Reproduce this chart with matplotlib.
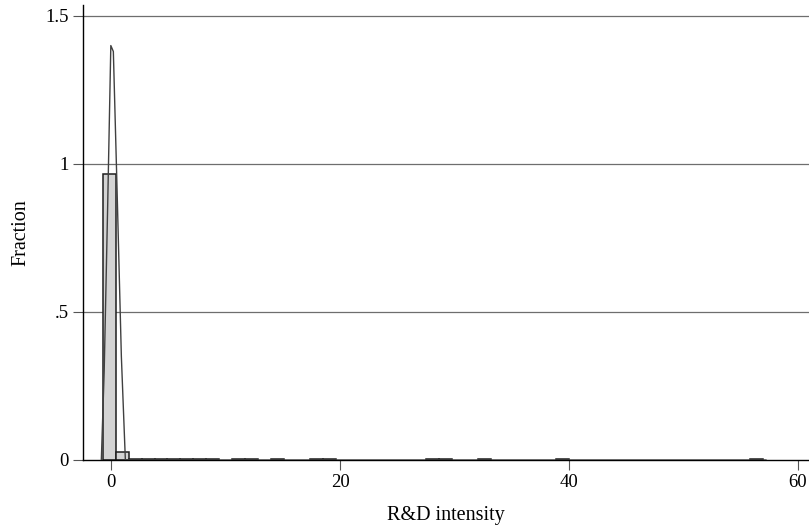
import numpy as np
import matplotlib.pyplot as plt

plt.rcParams['font.family'] = ['Liberation Serif', 'DejaVu Serif']

# histogram of R&D intensity (Stata-style fractions)
bin_start = -0.72
bin_width = 1.13
fraction = [0.965, 0.027, 0.005, 0.005, 0.005, 0.004, 0.004, 0.004, 0.004, 0.0,
            0.004, 0.004, 0.0, 0.004, 0.0, 0.0, 0.004, 0.004, 0.0, 0.0,
            0.0, 0.0, 0.0, 0.0, 0.0, 0.004, 0.004, 0.0, 0.0, 0.004,
            0.0, 0.0, 0.0, 0.0, 0.0, 0.004, 0.0, 0.0, 0.0, 0.0,
            0.0, 0.0, 0.0, 0.0, 0.0, 0.0, 0.0, 0.0, 0.0, 0.0,
            0.004]

# kernel density line
kd_x = [-0.85, -0.6, -0.3, -0.02, 0.2, 0.5, 0.9, 1.25, 5, 20, 40, 57.2]
kd_y = [0.0, 0.30, 0.85, 1.40, 1.38, 0.95, 0.35, 0.0, 0.0, 0.0, 0.0, 0.0]

yticks = [0, 0.5, 1, 1.5]
ylabels = ['0', '.5', '1', '1.5']
xticks = [0, 20, 40, 60]

fig = plt.figure(figsize=(8.09, 5.28), dpi=100)
ax = fig.add_axes([0.1026, 0.1288, 0.8974, 0.8617])

for y in yticks[1:]:
    ax.axhline(y, color='#6e6e6e', lw=0.9, zorder=0)

lefts = [bin_start + i * bin_width for i in range(len(fraction))]
keep = [i for i, f in enumerate(fraction) if f > 0]
ax.bar([lefts[i] for i in keep], [fraction[i] for i in keep], width=bin_width,
       align='edge', color='#d4d4d4', edgecolor='#1e1e1e', lw=1.1, zorder=2)

ax.plot(kd_x, kd_y, color='#404040', lw=1.0, zorder=3)

ax.set_xlim(-2.45, 60.96)
ax.set_ylim(0, 1.537)
ax.set_yticks(yticks)
ax.set_yticklabels(ylabels)
ax.set_xticks(xticks)
ax.tick_params(axis='both', direction='out', length=7, width=0.8,
               labelsize=13.5, color='#555555', pad=3)
for s in ['top', 'right']:
    ax.spines[s].set_visible(False)
ax.spines['left'].set_linewidth(1.0)
ax.spines['bottom'].set_linewidth(1.0)
ax.set_xlabel('R&D intensity', fontsize=14.5, labelpad=11)
ax.set_ylabel('Fraction', fontsize=14.5, labelpad=11)

plt.savefig('out.png', dpi=100, facecolor='w')
